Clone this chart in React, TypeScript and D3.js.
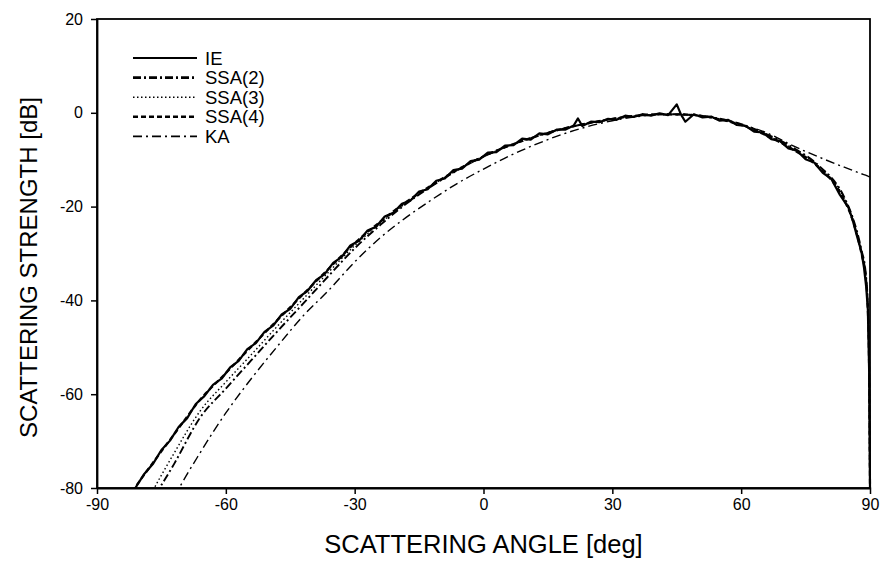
// App
import { useEffect, useRef } from 'react';
import * as d3 from 'd3';

// IE (integral equation) reference, noisy Monte Carlo curve
const ieAngles: number[] = [
	-83, -81, -79, -77, -75, -73, -71, -69, -67, -65, -63, -61, -59, -57, -55, -53, -51, -49, -47, -45,
	-43, -41, -39, -37, -35, -33, -31, -29, -27, -25, -23, -21, -19, -17, -15, -13, -11, -9, -7, -5,
	-3, -1, 1, 3, 5, 7, 9, 11, 13, 15, 17, 19, 21, 22, 23, 25, 27, 29, 31, 33,
	35, 37, 39, 41, 43, 45, 46, 47, 49, 51, 53, 55, 57, 59, 61, 63, 65, 67, 69, 71,
	73, 75, 77, 79, 81, 83, 85, 86, 87, 88, 88.6, 89.1, 89.5, 89.8, 89.9, 90
];
const ieValues: number[] = [
	-82.6, -79.9, -77.0, -74.9, -71.9, -69.9, -67.0, -65.1, -62.1, -60.4, -58.0, -56.7, -54.3, -52.9, -50.4, -49.1, -46.7, -45.4, -43.0, -41.8,
	-39.3, -38.0, -35.7, -34.4, -32.0, -30.7, -28.3, -27.3, -25.1, -24.3, -22.1, -21.3, -19.4, -18.7, -16.8, -16.3, -14.5, -14.0, -12.2, -11.9,
	-10.3, -10.0, -8.5, -8.4, -7.0, -6.9, -5.5, -5.7, -4.4, -4.6, -3.6, -3.6, -2.7, -1.2, -2.8, -1.9, -2.0, -1.3, -1.5, -0.6,
	-0.9, -0.3, -0.6, -0.1, -0.5, 1.8, -0.4, -1.9, -0.3, -1.0, -0.8, -1.7, -1.5, -2.6, -2.8, -4.0, -4.2, -5.6, -6.0, -7.6,
	-8.1, -9.9, -10.6, -12.8, -14.1, -17.5, -20.2, -23.0, -26.4, -29.6, -33.0, -37.0, -42.0, -55.0, -68.0, -80.0
];

// shared angle grid for the smooth approximations
const angles: number[] = [
	-84, -78, -72, -66, -60, -54, -48, -42, -36, -30, -24, -18, -12, -6, 0, 6, 12, 18, 24, 30,
	36, 42, 48, 54, 60, 66, 72, 78, 84, 86, 88, 89, 89.5, 89.8, 90
];
const ssa2: number[] = [
	-97, -84.3, -74.8, -65.0, -58.8, -52.7, -46.6, -40.7, -34.7, -28.9, -23.9, -19.4, -15.6, -12.2, -9.3, -7.0, -5.1, -3.5, -2.3, -1.3,
	-0.6, -0.3, -0.4, -1.1, -2.4, -4.6, -7.4, -11.2, -18.0, -22.4, -29.2, -34.2, -41, -54, -80
];
const ssa3: number[] = [
	-93.5, -82.3, -72.5, -63.6, -57.4, -51.5, -45.5, -39.7, -33.9, -28.3, -23.5, -19.2, -15.5, -12.1, -9.3, -7.0, -5.1, -3.5, -2.3, -1.3,
	-0.6, -0.3, -0.4, -1.2, -2.6, -4.8, -7.7, -11.4, -18.3, -22.7, -29.6, -34.6, -41.5, -54.5, -80
];
const ssa4: number[] = [
	-83.6, -75.9, -68.5, -61.2, -55.5, -49.8, -44.2, -38.7, -33.2, -27.8, -23.2, -19.0, -15.4, -12.1, -9.3, -7.0, -5.1, -3.5, -2.3, -1.3,
	-0.6, -0.3, -0.4, -1.2, -2.6, -4.9, -7.8, -11.6, -18.6, -23, -30, -35, -42, -55, -80
];
const ka: number[] = [
	-108, -94, -82.0, -72.5, -64.0, -56.6, -49.8, -43.3, -37.8, -31.8, -26.6, -22.3, -18.5, -15.0, -12.0, -9.2, -6.8, -4.7, -3.0, -1.7,
	-0.8, -0.4, -0.5, -1.2, -2.5, -4.3, -7.0, -9.4, -11.6, -12.3, -13.0, -13.3, -13.5, -13.6, -13.7
];

const xTicks: number[] = [-90, -60, -30, 0, 30, 60, 90];
const yTicks: number[] = [20, 0, -20, -40, -60, -80];
const legendLabels: string[] = ['IE', 'SSA(2)', 'SSA(3)', 'SSA(4)', 'KA'];

interface IStyle {
	dash: string;
	width: number;
	legendWidth: number;
}
const styles: IStyle[] = [
	{ dash: '', width: 2.2, legendWidth: 2 },
	{ dash: '8,3,2,3', width: 1.9, legendWidth: 2.8 },
	{ dash: '1.5,2.5', width: 1.4, legendWidth: 1.4 },
	{ dash: '5,3', width: 2.2, legendWidth: 2.6 },
	{ dash: '9,4,2,4', width: 1.4, legendWidth: 1.6 }
];

const W = 882;
const H = 561;
const margin = { top: 19, right: 12, bottom: 73, left: 97 };
const font = '"Liberation Sans", Arial, sans-serif';

function App() {
	const ref = useRef<SVGSVGElement>(null);

	useEffect(() => {
		const svg = d3.select(ref.current);
		svg.selectAll('*').remove();

		const x = d3.scaleLinear().domain([-90, 90]).range([margin.left, W - margin.right]);
		const y = d3.scaleLinear().domain([-80, 20]).range([H - margin.bottom, margin.top]);

		svg.append('defs')
			.append('clipPath')
			.attr('id', 'plot-clip')
			.append('rect')
			.attr('x', x(-90))
			.attr('y', y(20))
			.attr('width', x(90) - x(-90) + 2)
			.attr('height', y(-80) - y(20) + 1);

		const smooth = d3
			.line<number>()
			.x((_, i) => x(angles[i]))
			.y((d) => y(d))
			.curve(d3.curveMonotoneX);

		const plot = svg.append('g').attr('clip-path', 'url(#plot-clip)');

		const series = [
			{ values: ka, style: styles[4] },
			{ values: ssa2, style: styles[1] },
			{ values: ssa3, style: styles[2] },
			{ values: ssa4, style: styles[3] }
		];
		series.forEach((s) => {
			plot.append('path')
				.attr('d', smooth(s.values))
				.attr('fill', 'none')
				.attr('stroke', '#000')
				.attr('stroke-width', s.style.width)
				.attr('stroke-dasharray', s.style.dash);
		});

		const ieLine = d3
			.line<number>()
			.x((_, i) => x(ieAngles[i]))
			.y((d) => y(d));
		plot.append('path')
			.attr('d', ieLine(ieValues))
			.attr('fill', 'none')
			.attr('stroke', '#000')
			.attr('stroke-width', styles[0].width)
			.attr('stroke-linejoin', 'round');

		// frame
		svg.append('rect')
			.attr('x', x(-90))
			.attr('y', y(20))
			.attr('width', x(90) - x(-90))
			.attr('height', y(-80) - y(20))
			.attr('fill', 'none')
			.attr('stroke', '#000')
			.attr('stroke-width', 1.8);

		const fmt = (d: d3.NumberValue) => String(d);
		const xAxis = svg
			.append('g')
			.attr('transform', `translate(0, ${y(-80)})`)
			.call(d3.axisBottom(x).tickValues(xTicks).tickFormat(fmt).tickSize(6).tickPadding(5).tickSizeOuter(0));
		const yAxis = svg
			.append('g')
			.attr('transform', `translate(${x(-90)}, 0)`)
			.call(d3.axisLeft(y).tickValues(yTicks).tickFormat(fmt).tickSize(6).tickPadding(8).tickSizeOuter(0));

		[xAxis, yAxis].forEach((a) => {
			a.select('.domain').attr('stroke', '#000').attr('stroke-width', 1.8);
			a.selectAll('line').attr('stroke', '#000').attr('stroke-width', 1.5);
			a.selectAll('text').style('font-family', font).style('font-size', '16px').attr('fill', '#000');
		});

		svg.append('text')
			.attr('x', (x(-90) + x(90)) / 2)
			.attr('y', 553)
			.attr('text-anchor', 'middle')
			.style('font-family', font)
			.style('font-size', '25.5px')
			.text('SCATTERING ANGLE [deg]');

		svg.append('text')
			.attr('transform', `translate(29, ${(y(20) + y(-80)) / 2 + 14}) rotate(-90)`)
			.attr('text-anchor', 'middle')
			.attr('dy', '0.35em')
			.style('font-family', font)
			.style('font-size', '24px')
			.text('SCATTERING STRENGTH [dB]');

		// legend
		const legend = svg.append('g');
		legendLabels.forEach((label, i) => {
			const ly = 58 + i * 19.6;
			legend.append('line')
				.attr('x1', 133)
				.attr('x2', 197)
				.attr('y1', ly)
				.attr('y2', ly)
				.attr('stroke', '#000')
				.attr('stroke-width', styles[i].legendWidth)
				.attr('stroke-dasharray', styles[i].dash);
			legend.append('text')
				.attr('x', 205)
				.attr('y', ly)
				.attr('dy', '0.36em')
				.style('font-family', font)
				.style('font-size', '18.5px')
				.text(label);
		});
	}, []);

	return (
		<svg
			ref={ref}
			width={W}
			height={H}
			style={{ position: 'absolute', left: 0, top: 0, background: '#fff' }}
		/>
	);
}

export default App;
